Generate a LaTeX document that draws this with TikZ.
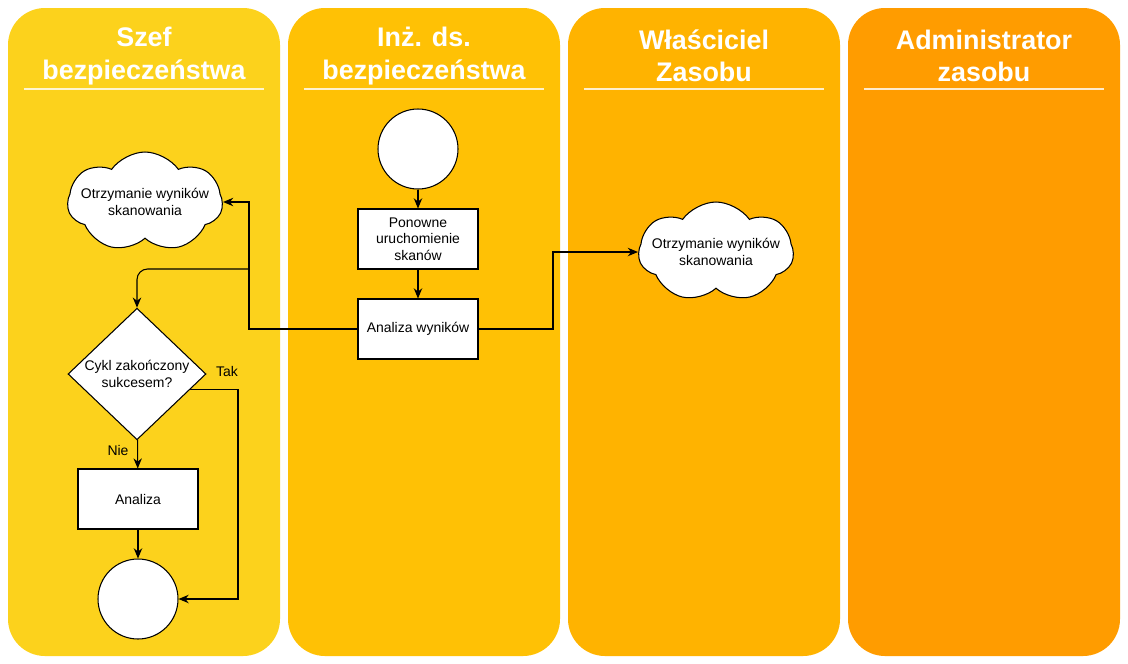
\documentclass[tikz,border=0pt]{standalone}
\usepackage{fontspec}
\setmainfont{Liberation Sans}
\usetikzlibrary{shapes.geometric,shapes.symbols,arrows.meta}

\definecolor{laneA}{HTML}{FCD21C}
\definecolor{laneB}{HTML}{FFC105}
\definecolor{laneC}{HTML}{FFB300}
\definecolor{laneD}{HTML}{FF9C00}

\tikzset{
	lanebox/.style={rounded corners=0.74cm},
	lanetitle/.style={text=white,font=\fontsize{15.3}{18.4}\selectfont\bfseries,align=center},
	laneline/.style={white,opacity=0.8,line width=0.8pt},
	procbox/.style={draw,fill=white,line width=0.6pt,minimum width=2.4cm,minimum height=1.2cm,align=center},
	decision/.style={diamond,draw,fill=white,line width=0.6pt,minimum width=2.76cm,minimum height=2.56cm,inner sep=0pt,align=center},
	terminal/.style={circle,draw,fill=white,line width=0.6pt,minimum size=1.6cm,inner sep=0pt},
	note/.style={cloud,cloud puffs=7,cloud puff arc=110,cloud ignores aspect,draw,fill=white,line width=0.6pt,minimum width=3.1cm,minimum height=2.0cm,inner sep=0pt},
	flow/.style={-{Stealth[length=5.8pt,width=4.8pt]},line width=0.6pt}
}

\begin{document}
\begin{tikzpicture}[x=0.02cm,y=-0.02cm,font=\fontsize{7.95}{9.3}\selectfont]
	\useasboundingbox (0,0) rectangle (1128,663);
	\fill[laneA,lanebox] (8,8) rectangle (280,656);
	\fill[laneB,lanebox] (288,8) rectangle (560,656);
	\fill[laneC,lanebox] (568,8) rectangle (840,656);
	\fill[laneD,lanebox] (848,8) rectangle (1120,656);
	
	\node[lanetitle] (headA) at (144,56) {Szef\\bezpieczeństwa};
	\node[lanetitle] (headB) at (424,56) {Inż. ds.\\bezpieczeństwa};
	\node[lanetitle] (headC) at (704,56) {Właściciel\\Zasobu};
	\node[lanetitle] (headD) at (984,56) {Administrator\\zasobu};
	\draw[laneline] (24,89) -- (264,89);
	\draw[laneline] (304,89) -- (544,89);
	\draw[laneline] (584,89) -- (824,89);
	\draw[laneline] (864,89) -- (1104,89);
	
	\node[note,label={[align=center]center:Otrzymanie wyników\\skanowania}] (wynA) at (145,202) {};
	\node[decision] (cykl) at (137,374) {Cykl zakończony\\sukcesem?};
	\node[procbox] (anal) at (138,499) {Analiza};
	\node[terminal] (stop) at (138,599) {};
	\node[terminal] (start) at (418,149) {};
	\node[procbox] (skan) at (418,239) {Ponowne\\uruchomienie\\skanów};
	\node[procbox] (wyniki) at (418,329) {Analiza wyników};
	\node[note,label={[align=center]center:Otrzymanie wyników\\skanowania}] (wynB) at (716,252) {};
	\node[] (tak) at (227,371) {Tak};
	\node[] (nie) at (118,450) {Nie};
	
	\coordinate (splitA) at (249,269);
	\coordinate (turnB) at (553,300);
	\coordinate (takturn) at (238,599);
	\draw[flow] (start) -- (skan);
	\draw[flow] (skan) -- (wyniki);
	\draw[flow] (wyniki.west) -| (splitA) |- (wynA.east);
	\draw[flow,rounded corners=6pt] (splitA) -| (cykl.north);
	\draw[flow] (wyniki.east) -| (turnB) |- (wynB.west);
	\draw[flow] (cykl.-16) -| (takturn) -- (stop.east);
	\draw[flow] (cykl) -- (anal);
	\draw[flow] (anal) -- (stop);
\end{tikzpicture}
\end{document}
